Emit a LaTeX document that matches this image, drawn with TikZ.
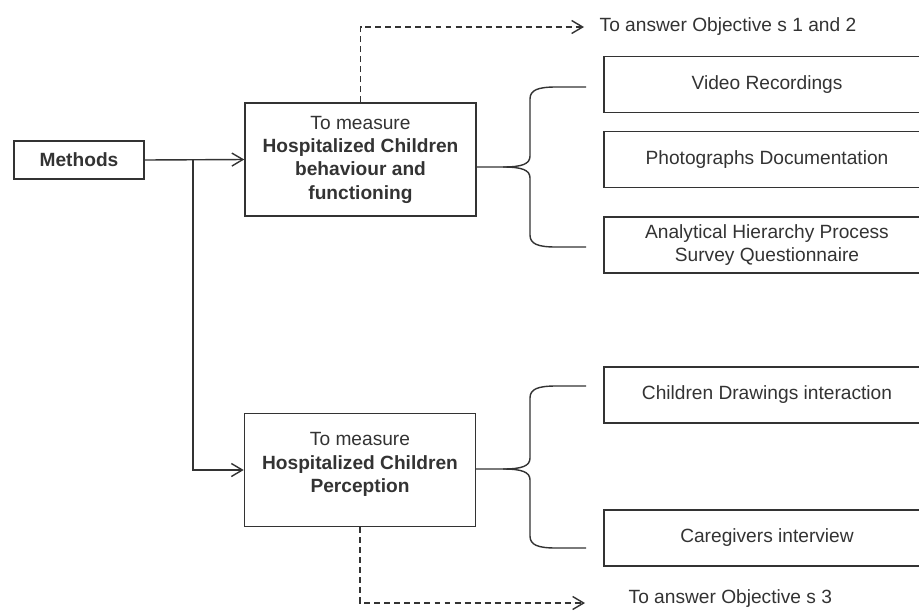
\documentclass[tikz,border=0pt]{standalone}
\usepackage{fontspec}
\setmainfont{Liberation Sans}
\usetikzlibrary{arrows.meta}

\definecolor{ink}{HTML}{333333}

\tikzset{
	box/.style={draw, line width=0.9pt, align=center, inner sep=2pt},
	goal/.style={box, minimum width=4.62cm, minimum height=2.26cm},
	item/.style={box, minimum width=6.52cm, minimum height=1.12cm},
	note/.style={anchor=west, inner sep=0pt},
	link/.style={-{Straight Barb[length=2.2mm, width=2.6mm]}},
	aim/.style={link, dash pattern=on 3.4pt off 2.3pt}
}

\begin{document}
\begin{tikzpicture}[x=0.02cm, y=-0.02cm, line width=0.8pt, color=ink, font=\fontsize{10.9}{13.3}\selectfont]
	\useasboundingbox (0,0) rectangle (919,613);
	\clip (0,0) rectangle (919,613);
	\node[box, minimum width=2.6cm, minimum height=0.76cm] (methods) at (79,160) {\textbf{Methods}};
	\node[goal] (behav) at (360.5,159.5) {To measure\\ \textbf{Hospitalized Children}\\ \textbf{behaviour and}\\ \textbf{functioning}};
	\node[goal] (percep) at (360,470) {To measure\\ \textbf{Hospitalized Children}\\ \textbf{Perception}\\[-5pt]\mbox{}};
	\node[item] (video) at (767,84.5) {Video Recordings};
	\node[item] (photo) at (767,159.5) {Photographs Documentation};
	\node[item] (ahp) at (767,245) {Analytical Hierarchy Process\\ Survey Questionnaire};
	\node[item] (drawings) at (767,395) {Children Drawings interaction};
	\node[item] (carers) at (767,538) {Caregivers interview};
	\node[note] (obj12) at (599,27) {To answer Objective s 1 and 2};
	\node[note] (obj3) at (628,599) {To answer Objective s 3};
	\coordinate (split) at (193,160);
	\draw[link] (methods.east) -- (behav.west);
	\draw[link] (split) |- (percep.west);
	\draw[aim] (behav.north) |- ([xshift=-0.3cm]obj12.west);
	\draw[aim] (percep.south) |- ([xshift=-0.86cm, yshift=-0.08cm]obj3.west);
	% braces towards the method boxes
	\foreach \ytip/\ytop/\ybot in {167/87/247, 469/386/548} {
		\draw (476,\ytip) -- (503,\ytip) .. controls (522,\ytip) and (530,\ytip-3) .. (530,\ytip-11) -- (530,\ytop+12) .. controls (530,\ytop+3) and (538,\ytop) .. (556,\ytop) -- (586,\ytop);
		\draw (503,\ytip) .. controls (522,\ytip) and (530,\ytip+3) .. (530,\ytip+11) -- (530,\ybot-12) .. controls (530,\ybot-3) and (538,\ybot) .. (556,\ybot) -- (586,\ybot);
	}
\end{tikzpicture}
\end{document}
